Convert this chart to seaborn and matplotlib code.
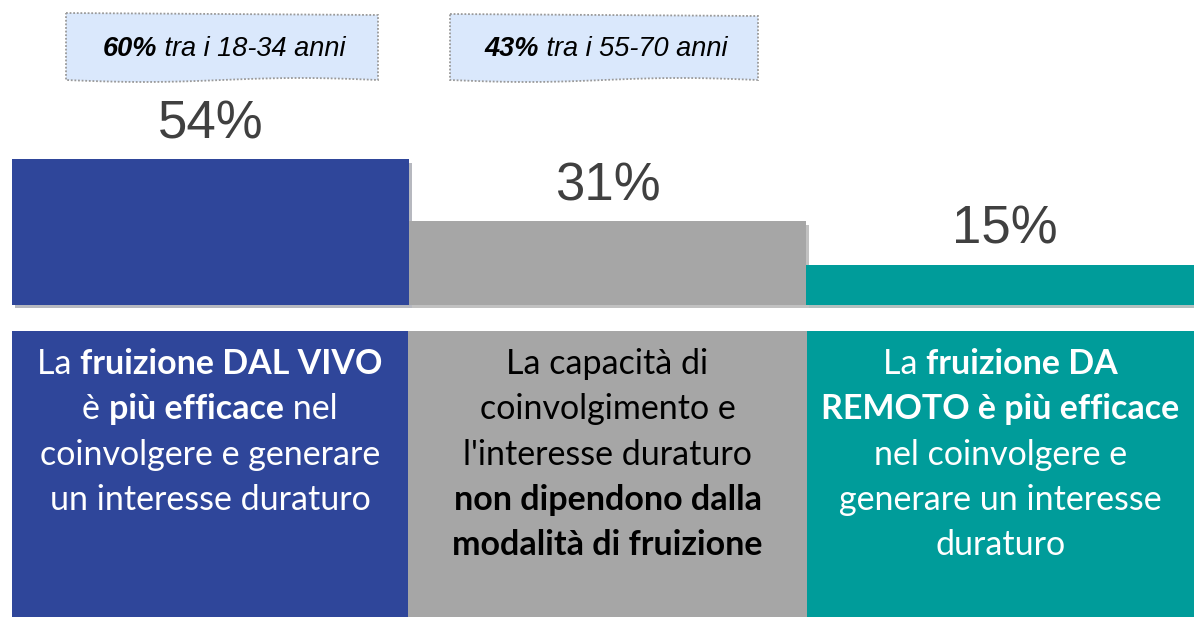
import numpy as np
import matplotlib
matplotlib.use("Agg")
import matplotlib.pyplot as plt
import matplotlib.patheffects as pe
from matplotlib.patches import Polygon, Rectangle
import seaborn as sns

# data
categories = ["Dal vivo", "Indifferente", "Da remoto"]
values = [54, 31, 15]
bar_colors = ["#2F469A", "#A6A6A6", "#009C9A"]

callout_pct = ["60%", "43%"]
callout_rest = [" tra i 18-34 anni", " tra i 55-70 anni"]

# panel texts: one list per line, (text, bold) segments
panel_lines = [
    [[("La ", False), ("fruizione DAL VIVO", True)],
     [("è ", False), ("più efficace", True), (" nel", False)],
     [("coinvolgere e generare", False)],
     [("un interesse duraturo", False)]],
    [[("La capacità di", False)],
     [("coinvolgimento e", False)],
     [("l'interesse duraturo", False)],
     [("non dipendono dalla", True)],
     [("modalità di fruizione", True)]],
    [[("La ", False), ("fruizione DA", True)],
     [("REMOTO è più efficace", True)],
     [("nel coinvolgere e", False)],
     [("generare un interesse", False)],
     [("duraturo", False)]],
]
panel_text_colors = ["white", "black", "white"]

W, H = 1194, 617
fig = plt.figure(figsize=(W / 100, H / 100), dpi=100)

# main bar axes: baseline at y=305px, 2.7 px per percentage point
px_per_unit = 2.7
ax = fig.add_axes([12 / W, 0, 3 * 397 / W, 1])
sns.barplot(x=categories, y=values, hue=categories, palette=bar_colors,
            saturation=1, width=1, legend=False, ax=ax, zorder=2)
ax.set_xlim(-0.5, 2.5)
ax.set_ylim(-(H - 305) / px_per_unit, 305 / px_per_unit)
ax.axis("off")

for bar in ax.patches:
    bar.set_path_effects([pe.SimplePatchShadow(offset=(2.5, -2.5), alpha=0.3),
                          pe.Normal()])

for i, v in enumerate(values):
    ax.annotate(f"{v}%", (i, v), xytext=(0, 15), textcoords="offset points",
                ha="center", va="baseline", fontsize=38, color="#404040",
                family="Liberation Sans")

# overlay in pixel coordinates for panels / callouts
ov = fig.add_axes([0, 0, 1, 1], zorder=3)
ov.set_xlim(0, W)
ov.set_ylim(H, 0)
ov.axis("off")
ov.patch.set_alpha(0)

fig.canvas.draw()
renderer = fig.canvas.get_renderer()


def mixed_line(cx, cy, segs, color, size, family, style="normal"):
    texts = []
    for s, b in segs:
        t = ov.text(0, cy, s, fontsize=size, family=family, color=color,
                    weight="bold" if b else "normal", style=style,
                    va="center", ha="left")
        texts.append(t)
    widths = [t.get_window_extent(renderer).width for t in texts]
    x = cx - sum(widths) / 2
    for t, w in zip(texts, widths):
        t.set_x(x)
        x += w


# bottom panels
panel_x = [(12, 408), (408, 807), (807, 1194)]
for (x0, x1), col, lines, tc in zip(panel_x, bar_colors, panel_lines,
                                     panel_text_colors):
    ov.add_patch(Rectangle((x0, 331), x1 - x0, H - 331, facecolor=col,
                           edgecolor="none"))
    cx = (x0 + x1) / 2
    for k, segs in enumerate(lines):
        mixed_line(cx, 364 + 45.3 * k, segs, tc, 24.5, "Lato")

# callouts with wavy bottom edge
callout_box = [(66, 378, 13, 80), (450, 758, 14, 80)]
for (x0, x1, y0, y1), pct, rest in zip(callout_box, callout_pct, callout_rest):
    t = np.linspace(0, 1, 60)
    top = np.column_stack([x0 + (x1 - x0) * t, y0 + 2 * t])
    bot = np.column_stack([x1 - (x1 - x0) * t, y1 - 2 * np.sin(2 * np.pi * t)])
    ov.add_patch(Polygon(np.vstack([top, bot]), closed=True,
                         facecolor="#DAE8FC", edgecolor="#9A9A9A",
                         linewidth=1.3, linestyle=(0, (1, 1))))
    mixed_line((x0 + x1) / 2 + 2, (y0 + y1) / 2 + 2, [(pct, True), (rest, False)],
               "black", 19.5, "Liberation Sans", style="italic")

fig.savefig("out.png", dpi=100)
